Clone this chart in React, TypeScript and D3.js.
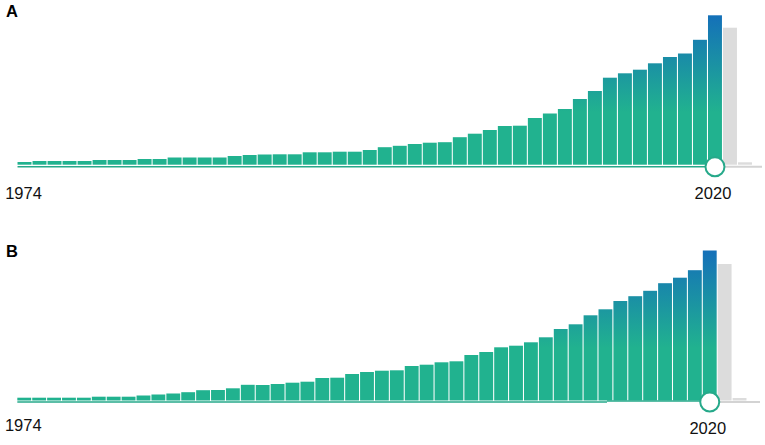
import React from "react";
import * as d3 from "d3";

const years = [
  "1974","1975","1976","1977","1978","1979","1980","1981","1982","1983",
  "1984","1985","1986","1987","1988","1989","1990","1991","1992","1993",
  "1994","1995","1996","1997","1998","1999","2000","2001","2002","2003",
  "2004","2005","2006","2007","2008","2009","2010","2011","2012","2013",
  "2014","2015","2016","2017","2018","2019","2020",
];
const projectedYears = ["2021", "2022"];

const seriesA = [
  27,37,37,37,37,47,47,47,57,57,72,72,72,72,87,97,102,104,104,124,124,130,130,147,
  175,189,207,220,225,275,310,347,387,390,467,512,557,657,737,870,914,950,1014,1077,
  1112,1249,1494,
];
const projectedA = [1370, 24];

const seriesB = [
  28,28,28,28,28,38,38,38,50,60,70,83,103,105,122,157,155,165,178,188,225,228,265,285,
  298,302,345,358,382,392,455,485,532,548,582,632,715,762,852,912,995,1043,1097,1173,
  1228,1303,1500,
];
const projectedB = [1365, 25];

const panelLabels = ["A", "B"];
const startLabel = "1974";
const endLabel = "2020";

const TEAL = "#21b28f";
const BLUE = "#1470b9";
const LINE_TEAL = "#26a98a";
const GRAY = "#dcdcdc";
const GRAY_LINE = "#d3d3d3";
const FONT = "'Liberation Sans', Arial, sans-serif";

type PanelProps = {
  id: string;
  label: string;
  values: number[];
  projected: number[];
  x0: number;
  x1: number;
  bottom: number;
  top: number;
  labelY: number;
  startY: number;
  endY: number;
  lineY: number;
  lineY2?: number;
  lineSplit?: number;
  grayEnd: number;
};

function Panel(p: PanelProps) {
  const allYears = [...years, ...projectedYears];
  const x = d3.scaleBand<string>().domain(allYears).range([p.x0, p.x1]).paddingInner(0.07).paddingOuter(0.035);
  const y = d3.scaleLinear().domain([0, 1500]).range([p.bottom, p.top]);
  const last = years[years.length - 1];
  const cx = (x(last) as number) + x.bandwidth() / 2;
  const firstCx = (x(years[0]) as number) + x.bandwidth() / 2;
  const gid = `grad-${p.id}`;
  const lineStart = x(years[0]) as number;
  return (
    <g>
      <defs>
        <linearGradient id={gid} gradientUnits="userSpaceOnUse" x1={0} x2={0} y1={p.top} y2={p.bottom}>
          <stop offset="0" stopColor={BLUE} />
          <stop offset="0.65" stopColor={TEAL} />
          <stop offset="1" stopColor={TEAL} />
        </linearGradient>
      </defs>
      <text x={6} y={p.labelY} fontFamily={FONT} fontWeight="bold" fontSize={16.5} fill="#000">
        {p.label}
      </text>
      {years.map((yr, i) => (
        <rect
          key={yr}
          x={x(yr)}
          width={x.bandwidth()}
          y={y(p.values[i])}
          height={p.bottom - y(p.values[i])}
          fill={`url(#${gid})`}
        />
      ))}
      {projectedYears.map((yr, i) => (
        <rect
          key={yr}
          x={x(yr)}
          width={x.bandwidth()}
          y={y(p.projected[i])}
          height={p.bottom - y(p.projected[i])}
          fill={GRAY}
        />
      ))}
      <line x1={cx} x2={p.grayEnd} y1={p.lineY} y2={p.lineY} stroke={GRAY_LINE} strokeWidth={2} />
      {p.lineSplit !== undefined && p.lineY2 !== undefined ? (
        <>
          <line x1={lineStart} x2={p.lineSplit} y1={p.lineY} y2={p.lineY} stroke={LINE_TEAL} strokeWidth={1.6} />
          <line x1={p.lineSplit} x2={cx} y1={p.lineY2} y2={p.lineY2} stroke={LINE_TEAL} strokeWidth={1.6} />
        </>
      ) : (
        <line x1={lineStart} x2={cx} y1={p.lineY} y2={p.lineY} stroke={LINE_TEAL} strokeWidth={1.6} />
      )}
      <circle cx={cx} cy={p.lineY} r={9.5} fill="#fff" stroke={LINE_TEAL} strokeWidth={2} />
      <text x={firstCx - 1} y={p.startY} textAnchor="middle" fontFamily={FONT} fontSize={16.5} fill="#111">
        {startLabel}
      </text>
      <text x={cx - 2} y={p.endY} textAnchor="middle" fontFamily={FONT} fontSize={16.5} fill="#111">
        {endLabel}
      </text>
    </g>
  );
}

export default function App() {
  return (
    <svg
      width={765}
      height={445}
      style={{ position: "absolute", left: 0, top: 0, background: "#fff" }}
    >
      <rect x={0} y={0} width={765} height={445} fill="#fff" />
      <Panel
        id="a"
        label={panelLabels[0]}
        values={seriesA}
        projected={projectedA}
        x0={17}
        x1={752.5}
        bottom={164.7}
        top={14.7}
        labelY={17}
        startY={199.3}
        endY={199.3}
        lineY={166.8}
        grayEnd={762}
      />
      <Panel
        id="b"
        label={panelLabels[1]}
        values={seriesB}
        projected={projectedB}
        x0={16.8}
        x1={747}
        bottom={400.5}
        top={250.5}
        labelY={256.5}
        startY={431}
        endY={434}
        lineY={402}
        lineY2={401}
        lineSplit={607}
        grayEnd={760}
      />
    </svg>
  );
}
